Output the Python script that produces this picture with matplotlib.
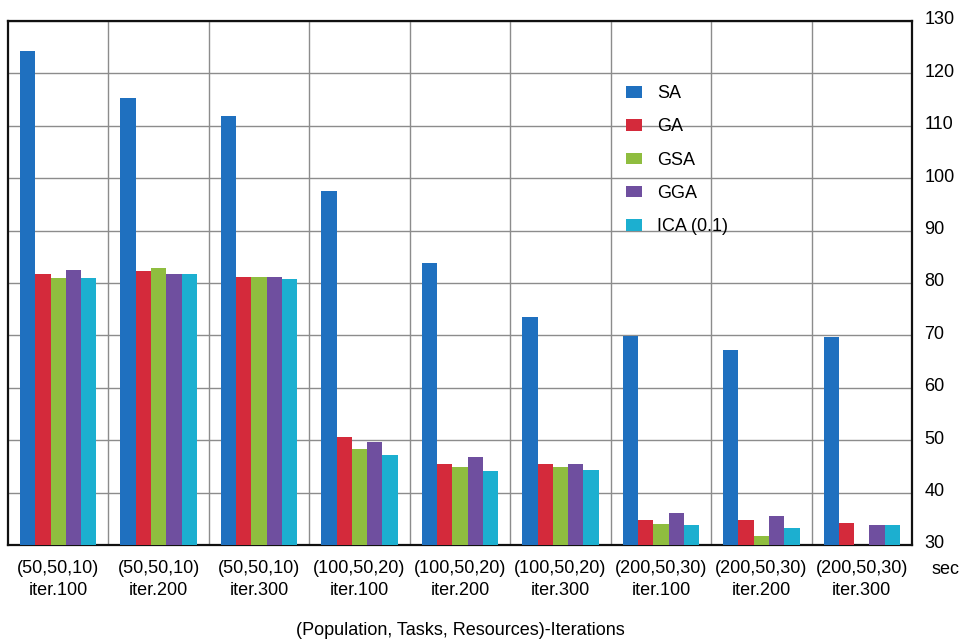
import numpy as np
import matplotlib
matplotlib.use('Agg')
import matplotlib.pyplot as plt
import matplotlib.transforms as mtransforms

plt.rcParams['font.family'] = ['Liberation Sans', 'DejaVu Sans']

# Data (seconds)
groups = ['(50,50,10)\niter.100', '(50,50,10)\niter.200', '(50,50,10)\niter.300',
          '(100,50,20)\niter.100', '(100,50,20)\niter.200', '(100,50,20)\niter.300',
          '(200,50,30)\niter.100', '(200,50,30)\niter.200', '(200,50,30)\niter.300']
series_names = ['SA', 'GA', 'GSA', 'GGA', 'ICA (0.1)']
sa = [124.2, 115.3, 111.8, 97.6, 83.9, 73.6, 69.9, 67.2, 69.6]
ga = [81.7, 82.2, 81.1, 50.6, 45.5, 45.5, 34.7, 34.7, 34.2]
gsa = [80.9, 82.9, 81.2, 48.3, 44.9, 44.9, 34.1, 31.7, 30.0]
gga = [82.4, 81.8, 81.1, 49.6, 46.8, 45.5, 36.2, 35.5, 33.9]
ica = [80.9, 81.8, 80.7, 47.2, 44.2, 44.4, 33.8, 33.2, 33.9]
colors = ['#1f70bf', '#d42a3b', '#8fbd3f', '#6f4f9f', '#1cafd0']

yticks = [30, 40, 50, 60, 70, 80, 90, 100, 110, 120, 130]

fig = plt.figure(figsize=(9.62, 6.39), dpi=100)
ax = fig.add_axes([8/962, 1 - 545/639, 904/962, 524/639])

x = np.arange(len(groups))
w = 0.152
all_series = [sa, ga, gsa, gga, ica]
for i, (vals, name, c) in enumerate(zip(all_series, series_names, colors)):
    ax.bar(x + (i - 2) * w, vals, width=w, color=c, label=name, zorder=3)

ax.set_xlim(-0.5, len(groups) - 0.5)
ax.set_ylim(30, 130)

ax.set_xticks(x)
ax.set_xticklabels(groups, fontsize=13, linespacing=1.4)
ax.set_xticks(np.arange(0.5, len(groups) - 1, 1.0), minor=True)
ax.tick_params(axis='x', which='both', length=0, pad=11)

ax.yaxis.tick_right()
ax.set_yticks(yticks)
ax.tick_params(axis='y', length=0, pad=9, labelsize=13)
# labels sit a little above their gridlines in the original
shift = mtransforms.ScaledTranslation(0, 3/100, fig.dpi_scale_trans)
for lab in ax.get_yticklabels():
    lab.set_transform(lab.get_transform() + shift)

ax.grid(True, axis='y', which='major', color='#8c8c8c', linewidth=1.0, zorder=0)
ax.grid(True, axis='x', which='minor', color='#8c8c8c', linewidth=1.0, zorder=0)
ax.set_axisbelow(True)

for s in ax.spines.values():
    s.set_linewidth(1.6)
    s.set_color('#111111')

ax.set_xlabel('(Population, Tasks, Resources)-Iterations', fontsize=13, labelpad=16)
fig.text(932/962, 1 - 570/639, 'sec', fontsize=13, ha='left', va='center')

ax.legend(loc='upper left', bbox_to_anchor=((619 - 8)/904, (545 - 78)/524),
          frameon=False, fontsize=13, handlelength=0.9, handleheight=0.6,
          handletextpad=0.8, labelspacing=0.9, borderaxespad=0)

fig.savefig('out.png', dpi=100)
